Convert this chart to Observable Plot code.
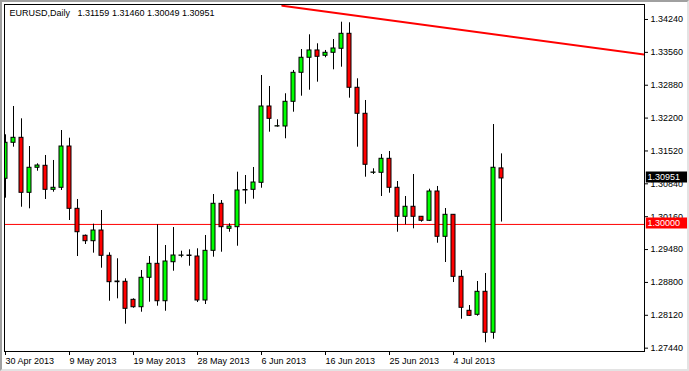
<!DOCTYPE html>
<html>
<head>
<meta charset="utf-8">
<script src="https://cdn.jsdelivr.net/npm/d3@7"></script>
<script src="https://cdn.jsdelivr.net/npm/@observablehq/plot@0.6"></script>
<style>
  html, body { margin: 0; padding: 0; background: #fff; }
  #wrap { position: relative; width: 689px; height: 371px; overflow: hidden; }
  #border { position: absolute; left: 0; top: 0; width: 689px; height: 371px; box-sizing: border-box;
    border-top: 2px solid #a0a0a0; border-left: 2px solid #a0a0a0;
    border-bottom: 2px solid #e3e3e3; border-right: 2px solid #e3e3e3; pointer-events: none; }
</style>
</head>
<body>
<div id="wrap"><div id="border"></div></div>
<script>
// EURUSD daily candles, 30 Apr 2013 .. current bar
const opens  = [1.30944,1.31689,1.31792,1.30654,1.31172,1.31213,1.30716,1.30758,1.31612,1.30323,
                1.29765,1.29653,1.29874,1.29351,1.28805,1.28813,1.28440,1.28287,1.28896,1.29185,
                1.28411,1.29218,1.29351,1.29357,1.29336,1.28426,1.29454,1.30427,1.29909,1.29943,
                1.30702,1.30716,1.30861,1.32440,1.32026,1.32026,1.32537,1.33137,1.33448,1.33599,
                1.33489,1.33551,1.33634,1.33944,1.32827,1.32289,1.31068,1.31068,1.31358,1.30758,
                1.30158,1.30365,1.30158,1.30075,1.30681,1.29744,1.30199,1.28916,1.28213,1.28130,
                1.28606,1.27758,1.31159];
const highs  = [1.31854,1.32440,1.32185,1.31612,1.31254,1.31426,1.31323,1.31943,1.31784,1.30516,
                1.29781,1.30005,1.30288,1.29413,1.29289,1.28875,1.28461,1.29047,1.29336,1.29992,
                1.29564,1.29936,1.29446,1.29475,1.29496,1.29771,1.30619,1.30495,1.30013,1.31081,
                1.31012,1.31178,1.33081,1.32854,1.32165,1.32703,1.33185,1.33619,1.33923,1.33737,
                1.33599,1.33826,1.34184,1.34172,1.33013,1.32564,1.31151,1.31447,1.31509,1.30888,
                1.30578,1.31033,1.30164,1.30729,1.30785,1.30329,1.30205,1.29047,1.28322,1.28819,
                1.28985,1.32067,1.31460];
const lows   = [1.30543,1.31598,1.30356,1.30323,1.31101,1.30516,1.30667,1.30702,1.30081,1.29336,
                1.29585,1.29405,1.29094,1.28411,1.28461,1.27936,1.28266,1.28184,1.28391,1.28308,
                1.28204,1.29032,1.29309,1.29136,1.28384,1.28343,1.29322,1.29425,1.29839,1.29549,
                1.30418,1.30522,1.30749,1.31908,1.32012,1.31772,1.32322,1.32653,1.32777,1.32943,
                1.33448,1.33199,1.33253,1.32612,1.31598,1.30977,1.31033,1.30578,1.30646,1.29839,
                1.29992,1.29909,1.30046,1.30060,1.29611,1.29212,1.28798,1.28039,1.28095,1.28101,
                1.27551,1.27625,1.30049];
const closes = [1.31689,1.31792,1.30654,1.31172,1.31219,1.30716,1.30758,1.31612,1.30323,1.29839,
                1.29653,1.29874,1.29351,1.28805,1.28819,1.28254,1.28287,1.28896,1.29185,1.28411,
                1.29233,1.29357,1.29357,1.29347,1.28426,1.29454,1.30427,1.29943,1.29957,1.30702,
                1.30712,1.30867,1.32440,1.32185,1.32032,1.32537,1.33137,1.33448,1.33599,1.33468,
                1.33551,1.33640,1.33944,1.32827,1.32289,1.31234,1.31074,1.31358,1.30758,1.30158,
                1.30365,1.30158,1.30075,1.30681,1.29744,1.30199,1.28916,1.28275,1.28109,1.28606,
                1.27758,1.31172,1.30951];

const xTickBars   = [0, 8, 16, 24, 32, 40, 48, 56];
const xTickLabels = ["30 Apr 2013","9 May 2013","19 May 2013","28 May 2013","6 Jun 2013","16 Jun 2013","25 Jun 2013","4 Jul 2013"];
const yTicks = [1.34240,1.33560,1.32880,1.32200,1.31520,1.30840,1.30160,1.29480,1.28800,1.28120,1.27440];

const trendBars   = [34.6, 80];
const trendPrices = [1.34523, 1.33513];

const levelLine = 1.30000;
const titleText = "EURUSD,Daily\u00a0\u00a0 1.31159 1.31460 1.30049 1.30951";
const priceLabels = [
  {p: 1.30951, bg: "#000000"},
  {p: 1.30000, bg: "#ff0000"}
];

const candles = opens.map((o, i) => ({i, o, h: highs[i], l: lows[i], c: closes[i]}));
const trend = trendBars.map((b, k) => ({b, p: trendPrices[k]}));
const labelMap = new Map(xTickBars.map((b, k) => [b, xTickLabels[k]]));

const plot = Plot.plot({
  width: 689,
  height: 371,
  marginLeft: 4,
  marginRight: 45,
  marginTop: 4,
  marginBottom: 20,
  style: {fontFamily: "'Liberation Sans', Arial, sans-serif", fontSize: "9px", background: "white", color: "black"},
  x: {domain: [-0.125, 79.875], axis: null},
  y: {domain: [1.27371, 1.34550], axis: null},
  marks: [
    Plot.ruleY([levelLine], {stroke: "#ff0000", strokeWidth: 1}),
    Plot.ruleX(candles, {x: "i", y1: "l", y2: "h", stroke: "black", strokeWidth: 1, clip: true}),
    Plot.rect(candles, {
      x1: d => d.i - 0.25, x2: d => d.i + 0.25, y1: "o", y2: "c",
      fill: d => d.c >= d.o ? "#00ff00" : "#ff0000", stroke: "black", strokeWidth: 1, clip: true
    }),
    Plot.line(trend, {x: "b", y: "p", stroke: "#ff0000", strokeWidth: 2, clip: true}),
    Plot.frame({stroke: "black"}),
    Plot.axisY({anchor: "right", ticks: yTicks, tickFormat: d => d.toFixed(5), tickSize: 3, tickPadding: 3, fill: "black"}),
    Plot.axisX({ticks: xTickBars, tickFormat: d => labelMap.get(d), tickSize: 4, tickPadding: 2, textAnchor: "start", dx: 0, fill: "black"}),
    Plot.ruleY(priceLabels, {y: "p", x1: 80.1, x2: 85.35, stroke: "bg", strokeWidth: 11, dy: -1.5}),
    Plot.text(priceLabels, {y: "p", frameAnchor: "right", dx: 3, dy: -1.5, textAnchor: "start", text: d => d.p.toFixed(5), fill: "white"}),
    Plot.text([titleText], {frameAnchor: "top-left", dx: 5, dy: 5, textAnchor: "start", lineAnchor: "top", fill: "black"})
  ]
});
document.getElementById("wrap").insertBefore(plot, document.getElementById("border"));
</script>
</body>
</html>
